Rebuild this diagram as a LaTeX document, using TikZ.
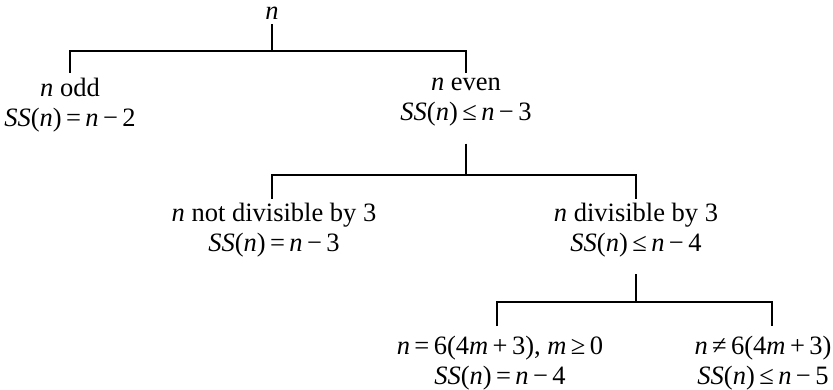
\documentclass[tikz,border=0pt]{standalone}
\usepackage{fontspec}
\setmainfont{Liberation Serif}
\usetikzlibrary{calc}
\tikzset{
  lbl/.style={inner sep=1pt, align=center, font=\fontsize{26.5}{30}\selectfont},
  brace/.style={line width=1.7pt},
}
\newcommand{\vi}[1]{\textit{#1}}

\begin{document}
\begin{tikzpicture}[x=1pt,y=-1pt]
  \useasboundingbox (0,0) rectangle (833,390);
  % first split: parity
  \node[lbl] (root) at (272,13) {\vi{n}};
  \node[lbl, anchor=north] (odd) at (70,77) {\vi{n} odd\\ \vi{SS}(\vi{n})\,=\,\vi{n}\,−\,2};
  \node[lbl, anchor=north] (even) at (466,77) {\vi{n} even\\ \vi{SS}(\vi{n})\,≤\,\vi{n}\,−\,3};
  \coordinate (bar1) at (272,51);
  \draw[brace, shorten <=4pt] (root.south) -- (root.south |- bar1);
  \draw[brace, shorten <=4pt, shorten >=4pt] (odd.north) |- (bar1) -| (even.north);
  % second split: divisibility by 3
  \node[lbl, anchor=north] (notdiv) at (274,202) {\vi{n} not divisible by 3\\ \vi{SS}(\vi{n})\,=\,\vi{n}\,−\,3};
  \node[lbl, anchor=north] (div) at (636,202) {\vi{n} divisible by 3\\ \vi{SS}(\vi{n})\,≤\,\vi{n}\,−\,4};
  \coordinate (bar2) at (466,175);
  \draw[brace, shorten <=16pt] (even.south) -- (even.south |- bar2);
  \draw[brace, shorten <=3pt, shorten >=3pt] ([xshift=-2pt]notdiv.north) |- (bar2) -| (div.north);
  % third split
  \node[lbl, anchor=north] (eq) at (500,335) {\vi{n}\,=\,6(4\vi{m}\,+\,3), \vi{m}\,≥\,0\\ \vi{SS}(\vi{n})\,=\,\vi{n}\,−\,4};
  \node[lbl, anchor=north] (neq) at (763,335) {\vi{n}\,≠\,6(4\vi{m}\,+\,3)\\ \vi{SS}(\vi{n})\,≤\,\vi{n}\,−\,5};
  \coordinate (bar3) at (636,302);
  \draw[brace, shorten <=16pt] (div.south) -- (div.south |- bar3);
  \draw[brace, shorten <=9pt, shorten >=9pt] ([xshift=-3pt]eq.north) |- (bar3) -| ([xshift=9pt]neq.north);
\end{tikzpicture}
\end{document}
